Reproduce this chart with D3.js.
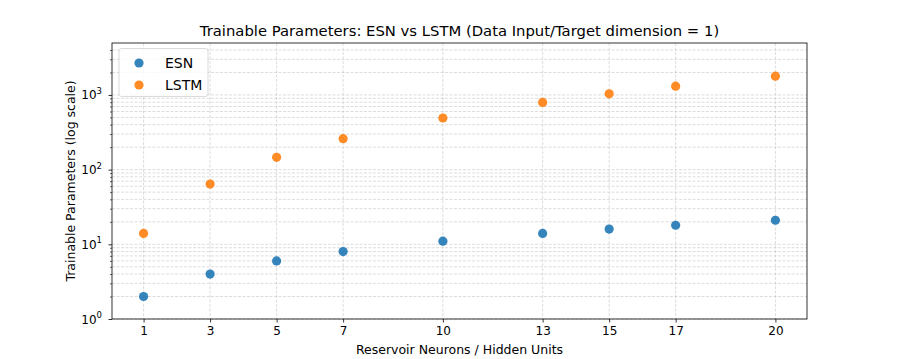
<!DOCTYPE html>
<html><head><meta charset="utf-8">
<script src="https://cdn.jsdelivr.net/npm/d3@7"></script>
<style>body{margin:0;background:#fff}text{font-family:"DejaVu Sans",sans-serif;fill:#000}</style>
</head><body><svg id="c" width="897" height="359"></svg>
<script>
const units = [1, 3, 5, 7, 10, 13, 15, 17, 20];
const esnParams = [2, 4, 6, 8, 11, 14, 16, 18, 21];
const lstmParams = [14, 64, 146, 260, 491, 794, 1036, 1310, 1781];
const xTickLabels = ["1", "3", "5", "7", "10", "13", "15", "17", "20"];
const yMajorTicks = [1, 10, 100, 1000];
const seriesNames = ["ESN", "LSTM"];
const colors = ["#1f77b4", "#ff7f0e"];

const svg = d3.select("#c");
const L = 112, R = 807, T = 43, B = 319;
const x = d3.scaleLinear().domain([0.05, 20.95]).range([L, R]);
const y = d3.scaleLog().domain([1, 4960]).range([B, T]);

// minor ticks
const minor = [];
for (let d = 1; d <= 1000; d *= 10) for (let k = 2; k <= 9; k++) { const v = k * d; if (v <= 4960) minor.push(v); }

const g = svg.append("g");
const gridStyle = sel => sel.attr("stroke", "#b0b0b0").attr("stroke-opacity", 0.55).attr("stroke-width", 0.8).attr("stroke-dasharray", "3,1.5");
g.selectAll(".gmin").data(minor).enter().append("line")
  .attr("x1", L).attr("x2", R).attr("y1", d => y(d)).attr("y2", d => y(d)).call(gridStyle);
g.selectAll(".gmaj").data(yMajorTicks).enter().append("line")
  .attr("x1", L).attr("x2", R).attr("y1", d => y(d)).attr("y2", d => y(d)).call(gridStyle);
g.selectAll(".gx").data(units).enter().append("line")
  .attr("x1", d => x(d)).attr("x2", d => x(d)).attr("y1", T).attr("y2", B).call(gridStyle);

// points
const series = [esnParams, lstmParams];
series.forEach((vals, i) => {
  svg.append("g").selectAll("circle").data(vals).enter().append("circle")
    .attr("cx", (d, j) => x(units[j])).attr("cy", d => y(d)).attr("r", 4.6)
    .attr("fill", colors[i]).attr("fill-opacity", 0.9);
});

// axes
const xAxis = d3.axisBottom(x).tickValues(units).tickFormat((d, i) => xTickLabels[i]).tickSize(3.5).tickPadding(3.5);
const xg = svg.append("g").attr("transform", `translate(0,${B})`).call(xAxis);
xg.select(".domain").remove();
xg.selectAll("text").style("font-size", "12px").style("font-family", "DejaVu Sans");
xg.selectAll("line").attr("stroke-width", 0.8);

const yAxis = d3.axisLeft(y).tickValues(yMajorTicks).tickFormat(() => "").tickSize(3.5);
const yg = svg.append("g").attr("transform", `translate(${L},0)`).call(yAxis);
yg.select(".domain").remove();
yg.selectAll("line").attr("stroke-width", 0.8);
const yMinor = d3.axisLeft(y).tickValues(minor).tickFormat(() => "").tickSize(2);
const ym = svg.append("g").attr("transform", `translate(${L},0)`).call(yMinor);
ym.select(".domain").remove();
ym.selectAll("line").attr("stroke-width", 0.6);

// y tick labels 10^n
yMajorTicks.forEach(v => {
  const t = svg.append("text").attr("x", L - 10).attr("y", y(v) + 4.5).attr("text-anchor", "end").style("font-size", "12px");
  t.append("tspan").text("10");
  t.append("tspan").text(Math.round(Math.log10(v))).attr("dy", -5.5).style("font-size", "8.5px");
});

// frame
svg.append("rect").attr("x", L).attr("y", T).attr("width", R - L).attr("height", B - T)
  .attr("fill", "none").attr("stroke", "#000").attr("stroke-width", 0.8);

// title & labels
svg.append("text").attr("x", (L + R) / 2).attr("y", 36).attr("text-anchor", "middle").style("font-size", "14.8px")
  .text("Trainable Parameters: ESN vs LSTM (Data Input/Target dimension = 1)");
svg.append("text").attr("x", (L + R) / 2).attr("y", 354).attr("text-anchor", "middle").style("font-size", "12.5px")
  .text("Reservoir Neurons / Hidden Units");
svg.append("text").attr("transform", `translate(75,${(T + B) / 2}) rotate(-90)`).attr("text-anchor", "middle").style("font-size", "12.5px")
  .text("Trainable Parameters (log scale)");

// legend
const lg = svg.append("g");
lg.append("rect").attr("x", 119).attr("y", 48.5).attr("width", 89).attr("height", 48).attr("rx", 2.5)
  .attr("fill", "#fff").attr("fill-opacity", 0.8).attr("stroke", "#d0d0d0").attr("stroke-width", 0.8);
seriesNames.forEach((n, i) => {
  lg.append("circle").attr("cx", 139).attr("cy", 63 + i * 22).attr("r", 4.6).attr("fill", colors[i]).attr("fill-opacity", 0.9);
  lg.append("text").attr("x", 165).attr("y", 68 + i * 22).style("font-size", "14px").text(n);
});
</script></body></html>
